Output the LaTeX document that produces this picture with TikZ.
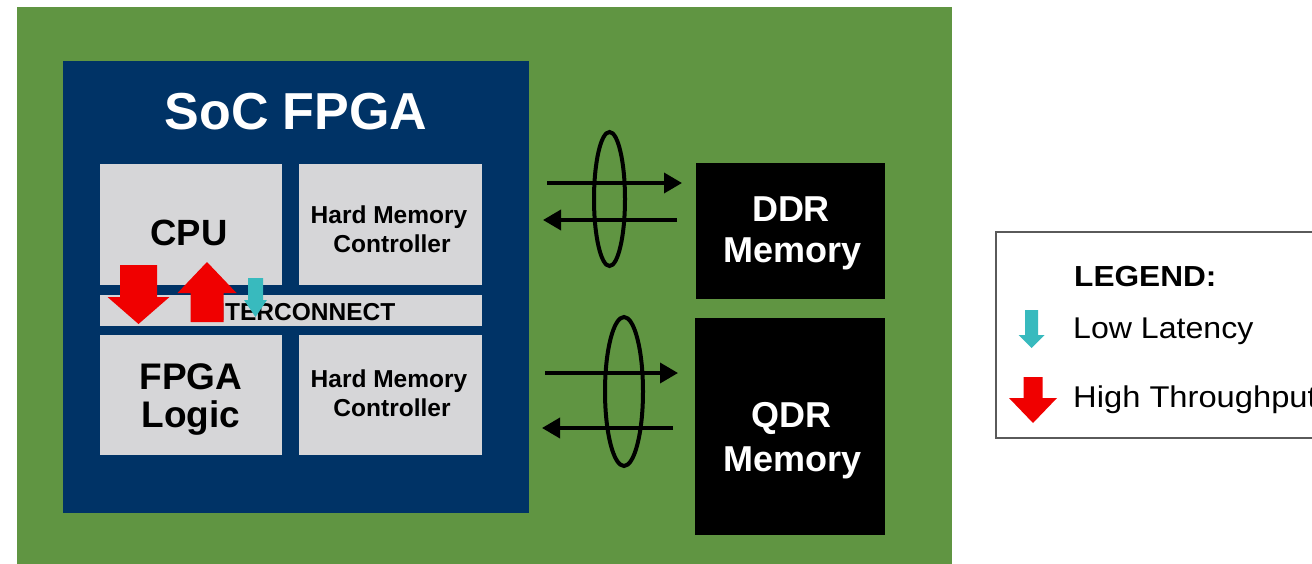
\documentclass[tikz,border=0pt]{standalone}
\usepackage{fontspec}
\setmainfont{Liberation Sans}
\usetikzlibrary{arrows.meta,shapes.geometric}

\definecolor{board}{RGB}{96,149,66}
\definecolor{socblue}{RGB}{0,51,102}
\definecolor{blockgray}{RGB}{214,214,216}
\definecolor{tpred}{RGB}{240,0,0}
\definecolor{latcyan}{RGB}{56,186,190}
\definecolor{legendline}{RGB}{90,90,90}

% filled block arrow: colour, centre x, tail y, head-base y, tip y, shaft half-width, head half-width
\newcommand\blockarrow[7]{%
  \fill[#1] ({#2-#6},#3) -- ({#2+#6},#3) -- ({#2+#6},#4) -- ({#2+#7},#4)
    -- (#2,#5) -- ({#2-#7},#4) -- ({#2-#6},#4) -- cycle;}

\begin{document}
\begin{tikzpicture}[x=1pt,y=-1pt,
  panel/.style={inner sep=0pt, outer sep=0pt, anchor=north west},
  block/.style={panel, fill=blockgray},
  memblock/.style={panel, fill=black},
  bundle/.style={draw=black, line width=4pt, ellipse, inner sep=0pt, fill=none},
  busline/.style={draw=black, line width=3.6pt, -{Triangle[length=18pt,width=20pt]}},
  blocktext/.style={inner sep=0pt, anchor=base, font=\bfseries\fontsize{24.5}{28}\selectfont},
  bigtext/.style={inner sep=0pt, anchor=base, font=\bfseries\fontsize{37}{40}\selectfont},
  memtext/.style={bigtext, text=white, font=\bfseries\fontsize{36}{40}\selectfont},
  legtext/.style={inner sep=0pt, anchor=base west, font=\fontsize{30}{34}\selectfont}]

\clip (0,0) rectangle (1312,564);
\fill[white] (0,0) rectangle (1312,564);

% circuit board and SoC device
\node[panel, fill=board, minimum width=935pt, minimum height=570pt] (board) at (17,7) {};
\node[panel, fill=socblue, minimum width=466pt, minimum height=452pt] (soc) at (63,61) {};
\node[inner sep=0pt, anchor=base, text=white, font=\bfseries\fontsize{52}{56}\selectfont] (socname) at (296,130) {SoC FPGA};

% blocks inside the SoC
\node[block, minimum width=182pt, minimum height=121pt] (cpu) at (100,164) {};
\node[block, minimum width=183pt, minimum height=121pt] (hmc1) at (299,164) {};
\node[block, minimum width=382pt, minimum height=31pt] (ic) at (100,295) {};
\node[block, minimum width=182pt, minimum height=120pt] (fpga) at (100,335) {};
\node[block, minimum width=183pt, minimum height=120pt] (hmc2) at (299,335) {};

\node[bigtext, font=\bfseries\fontsize{36.5}{40}\selectfont] (cpuname) at (189,245) {CPU};
\node[blocktext] (hmc1a) at (389,224) {Hard Memory};
\node[blocktext] (hmc1b) at (392,252) {Controller};
\node[blocktext] (icname) at (298,320) {INTERCONNECT};
\node[bigtext] (fpgaa) at (191,389) {FPGA};
\node[bigtext] (fpgab) at (191,427) {Logic};
\node[blocktext] (hmc2a) at (389,387) {Hard Memory};
\node[blocktext] (hmc2b) at (392,416) {Controller};

% traffic through the interconnect
\blockarrow{tpred}{138.5}{265}{297}{324}{18.5}{31}
\blockarrow{tpred}{207}{322}{293}{262}{16.5}{29.5}
\blockarrow{latcyan}{255.5}{278}{300}{317}{7.5}{11.5}

% external memories
\node[memblock, minimum width=189pt, minimum height=136pt] (ddr) at (696,163) {};
\node[memblock, minimum width=190pt, minimum height=217pt] (qdr) at (695,318) {};
\node[memtext] (ddra) at (791,222) {DDR};
\node[memtext] (ddrb) at (793,262) {Memory};
\node[memtext] (qdra) at (791,427) {QDR};
\node[memtext] (qdrb) at (793,471) {Memory};

% memory buses
\node[bundle, minimum width=31pt, minimum height=134pt] (bus1) at (609.5,199) {};
\node[bundle, minimum width=38pt, minimum height=149pt] (bus2) at (624,391.5) {};
\draw[busline] ([xshift=18pt]soc.east |- 0,183) -- ([xshift=-14pt]ddr.west |- 0,183);
\draw[busline] ([xshift=-19pt]ddr.west |- 0,220) -- ([xshift=14pt]soc.east |- 0,220);
\draw[busline] ([xshift=16pt]soc.east |- 0,373) -- ([xshift=-17pt]qdr.west |- 0,373);
\draw[busline] ([xshift=-22pt]qdr.west |- 0,428) -- ([xshift=13pt]soc.east |- 0,428);

% legend (its lettering is set slightly wide)
\node[panel, draw=legendline, line width=1.6pt, minimum width=340pt, minimum height=206pt] (legend) at (996,232) {};
\node[legtext, font=\bfseries\fontsize{29}{33}\selectfont] (legtitle) at (1074,287) {\scalebox{1.09}[1]{LEGEND:}};
\node[legtext] (leglow) at (1073,338) {\scalebox{1.07}[1]{Low Latency}};
\node[legtext] (leghigh) at (1073,407) {\scalebox{1.09}[1]{High Throughput}};
\blockarrow{latcyan}{1031.5}{310}{335}{348}{6.5}{13}
\blockarrow{tpred}{1033}{377}{398}{423}{9.5}{24}
\end{tikzpicture}
\end{document}
